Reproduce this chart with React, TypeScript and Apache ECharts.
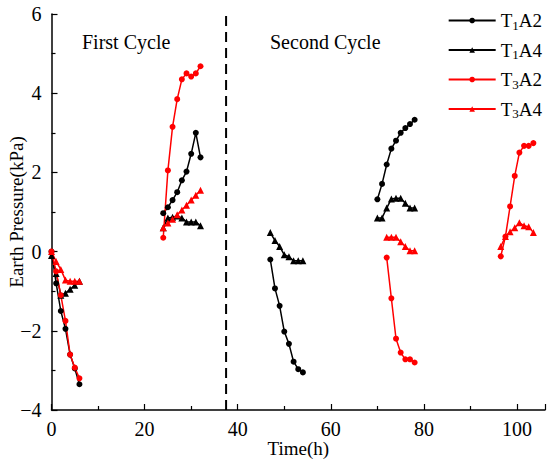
import React, { useEffect, useRef } from "react";
import * as echarts from "echarts";

const FONT = '"Liberation Serif", "Times New Roman", serif';

// time values (h) per test segment
const tA = [0, 1, 2, 3, 4, 5, 6];
const tB = [24, 25, 26, 27, 28, 29, 30, 31, 32];
const tC = [47, 48, 49, 50, 51, 52, 53, 54];
const tD = [70, 71, 72, 73, 74, 75, 76, 77, 78];
const tD2 = [72, 73, 74, 75, 76, 77, 78];
const tE = [96.5, 97.5, 98.5, 99.5, 100.5, 101.5, 102.5, 103.5];

// T1A2
const t1a2A = [0, -0.8, -1.5, -1.95, -2.6, -2.95, -3.35];
const t1a2B = [0.97, 1.12, 1.3, 1.5, 1.8, 2.02, 2.47, 3.0, 2.38];
const t1a2C = [-0.2, -0.93, -1.37, -2.02, -2.33, -2.78, -2.97, -3.05];
const t1a2D = [1.32, 1.71, 2.2, 2.6, 2.8, 3.0, 3.12, 3.22, 3.33];

// T1A4
const t1a4A = [-0.1, -0.55, -1.1, -1.05, -0.95, -0.85, -0.75];
const t1a4B = [0.6, 0.85, 0.87, 0.9, 0.85, 0.75, 0.75, 0.75, 0.65];
const t1a4C = [0.48, 0.28, 0.13, -0.08, -0.13, -0.23, -0.23, -0.23];
const t1a4D = [0.85, 0.85, 1.1, 1.33, 1.35, 1.35, 1.22, 1.1, 1.1];

// T3A2
const t3a2A = [0, -0.5, -1.1, -1.75, -2.6, -2.93, -3.2];
const t3a2B = [0.35, 2.05, 3.15, 3.85, 4.35, 4.5, 4.42, 4.5, 4.68];
const t3a2D = [-0.15, -1.18, -2.2, -2.55, -2.72, -2.72, -2.8];
const t3a2E = [-0.12, 0.38, 1.14, 1.91, 2.5, 2.67, 2.67, 2.74];

// T3A4
const t3a4A = [0, -0.25, -0.45, -0.72, -0.75, -0.75, -0.75];
const t3a4B = [0.6, 0.72, 0.82, 0.93, 1.05, 1.17, 1.3, 1.42, 1.55];
const t3a4D = [0.36, 0.36, 0.36, 0.25, 0.13, 0.02, 0.02];
const t3a4E = [0.13, 0.38, 0.5, 0.6, 0.73, 0.65, 0.63, 0.48];

const legendNames = ["T1A2", "T1A4", "T3A2", "T3A4"];
const dividerX = 37.5;

const zip = (ts: number[], vs: number[]) => ts.map((t, i) => [t, vs[i]]);

const defs = [
  { name: "T1A2", color: "#000000", symbol: "circle", parts: [[tA, t1a2A], [tB, t1a2B], [tC, t1a2C], [tD, t1a2D]] },
  { name: "T1A4", color: "#000000", symbol: "triangle", parts: [[tA, t1a4A], [tB, t1a4B], [tC, t1a4C], [tD, t1a4D]] },
  { name: "T3A2", color: "#ff0000", symbol: "circle", parts: [[tA, t3a2A], [tB, t3a2B], [tD2, t3a2D], [tE, t3a2E]] },
  { name: "T3A4", color: "#ff0000", symbol: "triangle", parts: [[tA, t3a4A], [tB, t3a4B], [tD2, t3a4D], [tE, t3a4E]] },
];

export default function App() {
  const ref = useRef<HTMLDivElement>(null);
  useEffect(() => {
    if (!ref.current) return;
    const chart = echarts.init(ref.current, undefined, { renderer: "svg" });
    const series: any[] = [];
    defs.forEach((d) => {
      d.parts.forEach((p: any) => {
        series.push({
          type: "line",
          name: d.name,
          data: zip(p[0], p[1]),
          symbol: d.symbol,
          symbolSize: d.symbol === "circle" ? 6 : 7,
          showAllSymbol: true,
          lineStyle: { color: d.color, width: 1.5 },
          itemStyle: { color: d.color },
          emphasis: { disabled: true },
        });
      });
    });
    series.push({
      type: "line",
      name: "divider",
      data: [[dividerX, -4], [dividerX, 6]],
      symbol: "none",
      lineStyle: { color: "#000", width: 2, type: [10, 6] },
      silent: true,
    });

    chart.setOption({
      animation: false,
      backgroundColor: "#ffffff",
      grid: { left: 51.5, right: 5, top: 14, bottom: 57, containLabel: false, outerBoundsMode: "none" },
      legend: {
        data: legendNames,
        orient: "vertical",
        right: 3,
        top: 6,
        itemWidth: 47,
        itemHeight: 7,
        itemGap: 9,
        formatter: (n: string) => "T{sub|" + n[1] + "}" + n.slice(2),
        textStyle: {
          fontFamily: FONT,
          fontSize: 19,
          color: "#000",
          rich: {
            sub: { fontFamily: FONT, fontSize: 13, color: "#000", padding: [9, 0, 0, 0] },
          },
        },
      },
      xAxis: {
        type: "value",
        min: 0,
        max: 106,
        interval: 20,
        name: "Time(h)",
        nameLocation: "middle",
        nameGap: 29,
        nameMoveOverlap: false,
        nameTextStyle: { fontFamily: FONT, fontSize: 19, color: "#000" },
        axisLine: { onZero: false, lineStyle: { color: "#000", width: 1.5 } },
        axisTick: { inside: true, length: 6, lineStyle: { color: "#000", width: 1.2 } },
        minorTick: { show: true, splitNumber: 2, length: 4, lineStyle: { color: "#000", width: 1.2 } },
        splitLine: { show: false },
        axisLabel: {
          fontFamily: FONT,
          fontSize: 20,
          color: "#000",
          margin: 9,
          formatter: (v: number) => (v % 20 === 0 ? String(v) : ""),
        },
      },
      yAxis: {
        type: "value",
        min: -4,
        max: 6,
        interval: 2,
        name: "Earth Pressure(kPa)",
        nameLocation: "middle",
        nameRotate: 90,
        nameGap: 26,
        nameMoveOverlap: false,
        nameTextStyle: { fontFamily: FONT, fontSize: 19, color: "#000" },
        axisLine: { show: true, onZero: false, lineStyle: { color: "#000", width: 1.5 } },
        axisTick: { inside: true, length: 6, lineStyle: { color: "#000", width: 1.2 } },
        minorTick: { show: true, splitNumber: 2, length: 4, lineStyle: { color: "#000", width: 1.2 } },
        splitLine: { show: false },
        axisLabel: {
          fontFamily: FONT,
          fontSize: 20,
          color: "#000",
          margin: 10,
          formatter: (v: number) => (v < 0 ? "\u2212" + Math.abs(v) : String(v)),
        },
      },
      graphic: [
        {
          type: "text",
          left: 82,
          top: 32,
          style: { text: "First Cycle", font: '20px "Liberation Serif", serif', fill: "#000" },
        },
        {
          type: "text",
          left: 270,
          top: 32,
          style: { text: "Second Cycle", font: '20px "Liberation Serif", serif', fill: "#000" },
        },
      ],
      series,
    });
    return () => chart.dispose();
  }, []);
  return (
    <div
      ref={ref}
      style={{ position: "absolute", left: 0, top: 0, width: 550, height: 467 }}
    />
  );
}
